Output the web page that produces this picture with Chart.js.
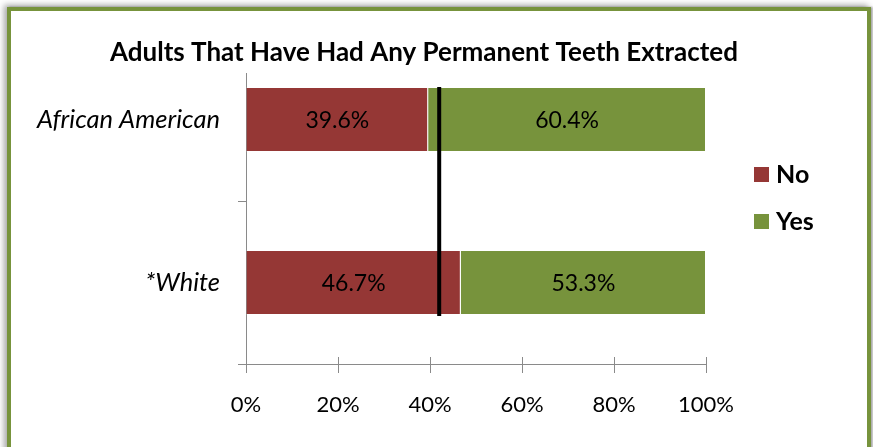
<!DOCTYPE html>
<html>
<head>
<meta charset="utf-8">
<script src="https://cdn.jsdelivr.net/npm/chart.js@4/dist/chart.umd.min.js"></script>
<style>
  html, body { margin: 0; padding: 0; background: #ffffff; overflow: hidden; }
  #frame {
    position: absolute; left: 7px; top: 7px; width: 856px; height: 460px;
    border: 4px solid #77933c; background: #ffffff;
    box-shadow: -3px -2px 6px rgba(0,0,0,0.35), 2px 0 2px rgba(0,0,0,0.3);
  }
  #wrap { position: absolute; left: 0; top: 0; width: 873px; height: 447px; }
</style>
</head>
<body>
<div id="frame"></div>
<div id="wrap"><canvas id="chart" width="873" height="447"></canvas></div>
<script>
// Survey groups and share of adults, by answer (percent)
const groups = ['African American', '*White'];
const noValues = [39.6, 46.7];
const yesValues = [60.4, 53.3];
const seriesNames = ['No', 'Yes'];
const xTicks = [0, 20, 40, 60, 80, 100];
const overallLine = 42;   // overall share marked by the vertical rule
const chartTitle = 'Adults That Have Had Any Permanent Teeth Extracted';

const RED = '#953735';
const GREEN = '#77933c';
const AXIS = '#8a8a8a';
const FONT = 'Lato, "Open Sans", sans-serif';

// Title drawn over the plot's top edge, on a white plate
const titlePlugin = {
  id: 'overlayTitle',
  afterDraw(chart) {
    const ctx = chart.ctx;
    const y = chart.scales.y;
    ctx.save();
    ctx.fillStyle = '#ffffff';
    ctx.fillRect(y.right - 12, chart.chartArea.top - 4, 16, 39);
    ctx.fillStyle = '#000000';
    ctx.font = 'bold 26px ' + FONT;
    ctx.textAlign = 'center';
    ctx.textBaseline = 'alphabetic';
    ctx.fillText(chartTitle, 424, 61);
    ctx.restore();
  }
};

// Inner half of the crossing tick marks on the value axis
const crossTicks = {
  id: 'crossTicks',
  afterDraw(chart) {
    const ctx = chart.ctx;
    const x = chart.scales.x;
    const bottom = chart.chartArea.bottom;
    ctx.save();
    ctx.strokeStyle = AXIS;
    ctx.lineWidth = 1;
    x.ticks.forEach(t => {
      const px = Math.round(x.getPixelForValue(t.value)) + 0.5;
      ctx.beginPath();
      ctx.moveTo(px, bottom - 7);
      ctx.lineTo(px, bottom);
      ctx.stroke();
    });
    ctx.restore();
  }
};

// Value labels centred in each bar segment
const barLabels = {
  id: 'barLabels',
  afterDatasetsDraw(chart) {
    const ctx = chart.ctx;
    ctx.save();
    ctx.fillStyle = '#000000';
    ctx.font = '23px ' + FONT;
    ctx.textAlign = 'center';
    ctx.textBaseline = 'middle';
    chart.data.datasets.forEach((ds, di) => {
      const meta = chart.getDatasetMeta(di);
      meta.data.forEach((bar, i) => {
        const cx = (bar.x + bar.base) / 2;
        ctx.fillText(ds.data[i].toFixed(1) + '%', cx, bar.y + 1);
      });
    });
    ctx.restore();
  }
};

// Vertical rule at the overall value, spanning the bars
const ruleLine = {
  id: 'ruleLine',
  afterDatasetsDraw(chart) {
    const ctx = chart.ctx;
    const px = chart.scales.x.getPixelForValue(overallLine);
    const bars = chart.getDatasetMeta(0).data;
    const first = bars[0], last = bars[bars.length - 1];
    const top = first.y - first.height / 2;
    const bottom = last.y + last.height / 2 + 1;
    ctx.save();
    ctx.strokeStyle = '#000000';
    ctx.lineWidth = 4;
    ctx.beginPath();
    ctx.moveTo(px, top);
    ctx.lineTo(px, bottom);
    ctx.stroke();
    ctx.restore();
  }
};

// Legend to the right of the plot
const sideLegend = {
  id: 'sideLegend',
  afterDraw(chart) {
    const ctx = chart.ctx;
    ctx.save();
    ctx.font = 'bold 25px ' + FONT;
    ctx.textAlign = 'left';
    ctx.textBaseline = 'middle';
    chart.data.datasets.forEach((ds, i) => {
      const cy = 174.5 + i * 47;
      ctx.fillStyle = ds.backgroundColor;
      ctx.fillRect(754, cy - 7.5, 15, 15);
      ctx.fillStyle = '#000000';
      ctx.fillText(ds.label, 776, cy);
    });
    ctx.restore();
  }
};

new Chart(document.getElementById('chart'), {
  type: 'bar',
  data: {
    labels: groups,
    datasets: [
      { label: seriesNames[0], data: noValues, backgroundColor: RED,
        borderColor: 'rgba(255,255,255,0.45)', borderWidth: 1 },
      { label: seriesNames[1], data: yesValues, backgroundColor: GREEN,
        borderColor: 'rgba(255,255,255,0.45)', borderWidth: 1 }
    ]
  },
  options: {
    indexAxis: 'y',
    responsive: false,
    animation: false,
    devicePixelRatio: 1,
    layout: { padding: { top: 38, right: 167, bottom: 0, left: 0 } },
    datasets: { bar: { barPercentage: 0.4, categoryPercentage: 1.0 } },
    plugins: {
      legend: { display: false },
      title: { display: false },
      tooltip: { enabled: false }
    },
    scales: {
      x: {
        stacked: true,
        min: 0, max: 100,
        afterBuildTicks(scale) { scale.ticks = xTicks.map(v => ({ value: v })); },
        afterFit(scale) { scale.height = 83; },
        grid: { display: true, drawOnChartArea: false, drawTicks: true, tickLength: 9, color: AXIS, lineWidth: 1 },
        border: { display: true, color: AXIS, width: 1 },
        ticks: {
          color: '#000000', font: { family: FONT, size: 22 }, padding: 19,
          callback: v => v + '%'
        }
      },
      y: {
        stacked: true,
        afterFit(scale) { scale.width = 246; },
        grid: { display: true, drawOnChartArea: false, drawTicks: true, tickLength: 8, color: AXIS, lineWidth: 1, offset: true },
        border: { display: true, color: AXIS, width: 1 },
        ticks: {
          color: '#000000', font: { family: FONT, size: 25.5, style: 'italic' }, padding: 18
        }
      }
    }
  },
  plugins: [ruleLine, barLabels, crossTicks, titlePlugin, sideLegend]
});
</script>
</body>
</html>
